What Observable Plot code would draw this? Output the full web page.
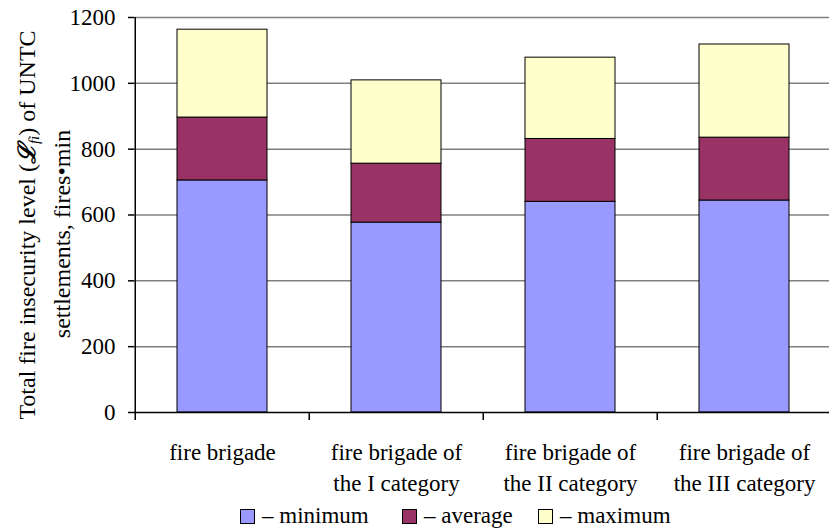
<!DOCTYPE html>
<html>
<head>
<meta charset="utf-8">
<script src="https://cdn.jsdelivr.net/npm/d3@7"></script>
<script src="https://cdn.jsdelivr.net/npm/@observablehq/plot@0.6"></script>
<style>
  html, body { margin: 0; padding: 0; background: white; }
  #wrap { position: relative; width: 829px; height: 532px; font-family: 'Liberation Serif', 'Times New Roman', 'DejaVu Serif', serif; }
  #legend { position: absolute; left: 240px; top: 503px; display: flex; align-items: center; font-size: 23px; color: black; white-space: nowrap; }
  #legend .sw { width: 15px; height: 15px; border: 1px solid black; box-sizing: border-box; display: inline-block; margin-right: 7px; }
  #legend .item { display: flex; align-items: center; }
</style>
</head>
<body>
<div id="wrap"><div id="chart"></div><div id="legend"></div></div>
<script>
const categories = ["fire brigade", "fire brigade of\nthe I category", "fire brigade of\nthe II category", "fire brigade of\nthe III category"];
const series = ["minimum", "average", "maximum"];
const minimum = [705, 577, 640, 644];
const average = [191, 179, 191, 191];
const maximum = [267, 253, 247, 283];
const yTicks = [0, 200, 400, 600, 800, 1000, 1200];
const colors = ["#9999FF", "#993366", "#FFFFCC"];

const values = [minimum, average, maximum];
const table = [];
series.forEach((s, si) => categories.forEach((c, ci) => table.push({category: c, series: s, value: values[si][ci]})));

const xRange = [134, 832];
const step = (xRange[1] - xRange[0]) / categories.length;
const font = "'Liberation Serif', 'Times New Roman', 'DejaVu Serif', serif";

const chart = Plot.plot({
  width: 829,
  height: 500,
  marginTop: 17,
  marginBottom: 88,
  marginLeft: 134,
  marginRight: 0,
  style: {fontFamily: font, fontSize: "23px", color: "black", background: "white", overflow: "visible"},
  x: {domain: categories, range: xRange, paddingInner: 0.48, paddingOuter: 0.24, label: null},
  y: {domain: [0, 1200], label: null},
  color: {domain: series, range: colors},
  marks: [
    Plot.gridY(yTicks.slice(1), {stroke: "#808080", strokeOpacity: 1, strokeWidth: 1.5}),
    Plot.barY(table, {x: "category", y: "value", fill: "series", stroke: "black", strokeWidth: 1}),
    Plot.ruleY([0], {stroke: "black", strokeWidth: 1.5}),
    Plot.ruleX([categories[0]], {dx: -step / 2, y1: 0, y2: 1200, stroke: "black", strokeWidth: 1.5}),
    Plot.axisY({ticks: yTicks, tickSize: 6, tickPadding: 13, tickFormat: d => String(d), label: null, fontSize: 23, fontFamily: font, stroke: "black", strokeWidth: 1.5}),
    Plot.axisX({tickSize: 8, dx: -step / 2, tickFormat: () => "", label: null, stroke: "black", strokeWidth: 1.5}),
    Plot.axisX({tickSize: 0, tickPadding: 25, lineHeight: 1.35, label: null, fontSize: 23, fontFamily: font})
  ]
});
chart.style.fontFamily = font;
document.getElementById("chart").appendChild(chart);

// y-axis title (two lines, rotated)
const svg = d3.select(chart);
const g = svg.append("g").attr("font-family", font).attr("font-size", 24).attr("fill", "black").attr("text-anchor", "middle");
const t1 = g.append("text").attr("transform", "translate(27,225) rotate(-90)").attr("dy", "0.35em");
t1.append("tspan").text("Total fire insecurity level (");
t1.append("tspan").attr("font-style", "italic").attr("font-weight", "bold").text("ℒ");
t1.append("tspan").attr("font-style", "italic").attr("font-size", 15).attr("dy", "4").text("fi");
t1.append("tspan").attr("dy", "-4").text(") of UNTC");
g.append("text").attr("transform", "translate(62,234) rotate(-90)").attr("dy", "0.35em").text("settlements, fires•min");

// legend
const legendWidths = ["162px", "136px", "auto"];
const legend = d3.select("#legend");
series.forEach((s, i) => {
  const item = legend.append("div").attr("class", "item").style("width", legendWidths[i]);
  item.append("span").attr("class", "sw").style("background", colors[i]);
  item.append("span").text("– " + s);
});
</script>
</body>
</html>
